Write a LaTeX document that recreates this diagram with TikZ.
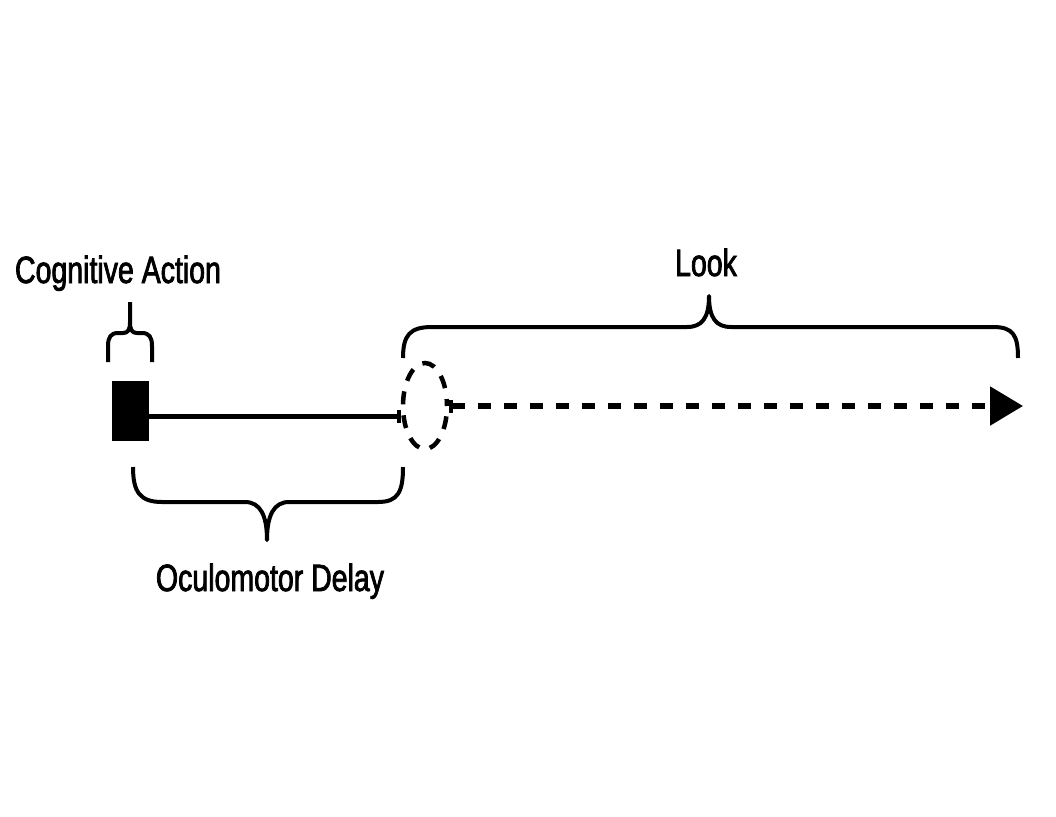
\documentclass[tikz,border=0pt]{standalone}
\usepackage{fontspec}
\setmainfont{Liberation Sans}[FakeStretch=0.75,FakeBold=2]
\usetikzlibrary{shapes.geometric,arrows.meta}
\begin{document}
\begin{tikzpicture}[x=1pt,y=-1pt,
  lbl/.style={anchor=base,inner sep=0pt,font=\fontsize{38}{40}\selectfont},
  bracepath/.style={line width=4pt,line join=round},
  solidline/.style={line width=5pt},
  dashline/.style={line width=5.5pt,dash pattern=on 13pt off 13pt}]
\useasboundingbox (0,0) rectangle (1056,816);
% cognitive action block
\node[fill=black,draw=black,minimum width=36pt,minimum height=59pt,inner sep=0pt] (ca) at (130,411) {};
% eye (dashed ellipse)
\node[ellipse,draw,line width=4.5pt,dash pattern=on 13pt off 11pt,dash phase=6pt,minimum width=44pt,minimum height=86pt,inner sep=0pt] (eye) at (425,406) {};
\coordinate (lookend) at (1023,406);
% connectors
\draw[solidline,-{Bar[width=13pt,line width=4pt]}] (ca.east |- 0,416) -- (eye.west |- 0,416);
\draw[dashline,{Bar[width=13pt,line width=4pt]}-{Triangle[length=33pt,width=38pt]}] (eye.east) -- (lookend);
% braces
\draw[bracepath] (108,362) -- (108,346) .. controls (108,337) and (111,333) .. (118,333) -- (123,333) .. controls (128,333) and (130,330) .. (130,322) -- (130,302);
\draw[bracepath] (152,362) -- (152,346) .. controls (152,337) and (149,333) .. (142,333) -- (137,333) .. controls (132,333) and (130,330) .. (130,322);
\draw[bracepath] (403,358) .. controls (403,335) and (410,327) .. (432,327) -- (687,327) .. controls (702,327) and (709,318) .. (709,296) .. controls (709,318) and (716,327) .. (731,327) -- (993,327) .. controls (1013,327) and (1018,335) .. (1018,358);
\draw[bracepath] (133,467) .. controls (133,492) and (140,502) .. (162,502) -- (245,502) .. controls (260,502) and (267,515) .. (267,540) .. controls (267,515) and (274,502) .. (289,502) -- (378,502) .. controls (398,502) and (403,492) .. (403,467);
% labels
\node[lbl] (tca) at (118,283) {Cognitive Action};
\node[lbl] (tlook) at (706,276) {Look};
\node[lbl] (tod) at (270,591) {Oculomotor Delay};
\end{tikzpicture}
\end{document}
